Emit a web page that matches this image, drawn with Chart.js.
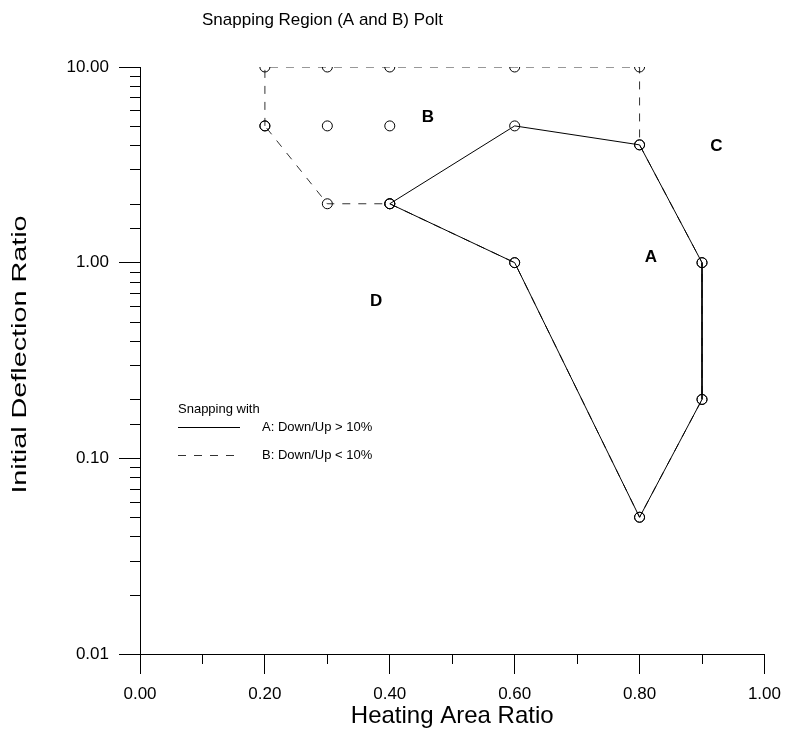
<!DOCTYPE html>
<html>
<head>
<meta charset="utf-8">
<script src="https://cdn.jsdelivr.net/npm/chart.js@4.4.1/dist/chart.umd.min.js"></script>
<style>
  html, body { margin: 0; padding: 0; background: #fff; }
</style>
</head>
<body>
<canvas id="chart" width="791" height="733"></canvas>
<script>
// region A (solid) and region B (dashed) boundaries: heating area ratio / initial deflection ratio
const regionAx = [0.4, 0.6, 0.8, 0.9, 0.9, 0.8, 0.6, 0.4];
const regionAy = [2, 5, 4, 1, 0.2, 0.05, 1, 2];
const regionBx = [0.2, 0.2, 0.3, 0.4, 0.6, 0.8, 0.8, 0.9, 0.9, 0.8, 0.6, 0.4, 0.3, 0.2];
const regionBy = [5, 10, 10, 10, 10, 10, 4, 1, 0.2, 0.05, 1, 2, 2, 5];
// loose test points without a line
const extraX = [0.3, 0.4];
const extraY = [5, 5];

// region letters, placed in data units
const regionNames = ['B', 'C', 'A', 'D'];
const regionNameX = [0.461, 0.923, 0.818, 0.378];
const regionNameY = [5.55, 3.95, 1.06, 0.637];

const chartTitle = 'Snapping Region (A and B) Polt';
const legendTitle = 'Snapping with';
const legendLabels = ['A: Down/Up > 10%', 'B: Down/Up < 10%'];
const xTitle = 'Heating Area Ratio';
const yTitle = 'Initial Deflection Ratio';

const FONT = "'Liberation Sans', Arial, sans-serif";

const toPoints = (xs, ys) => xs.map((x, i) => ({ x, y: ys[i] }));
const isDecade = (v) => Math.abs(Math.log10(v) - Math.round(Math.log10(v))) < 1e-6;

// мелкие тики, заголовки, легенда и буквы областей
const decor = {
  id: 'decor',
  afterDraw(chart) {
    const { ctx, chartArea: { left, bottom, top }, scales: { x, y } } = chart;
    ctx.save();
    ctx.strokeStyle = '#000';
    ctx.lineWidth = 1;
    ctx.beginPath();
    // minor y ticks (2..9 of each decade)
    y.ticks.forEach((t) => {
      if (isDecade(t.value)) return;
      const py = Math.round(y.getPixelForValue(t.value)) + 0.5;
      ctx.moveTo(left - 10, py);
      ctx.lineTo(left, py);
    });
    // minor x ticks halfway between labelled ones
    x.ticks.forEach((t, i) => {
      if (i === x.ticks.length - 1) return;
      const mx = Math.round(x.getPixelForValue((t.value + x.ticks[i + 1].value) / 2)) + 0.5;
      ctx.moveTo(mx, bottom);
      ctx.lineTo(mx, bottom + 10);
    });
    ctx.stroke();

    ctx.fillStyle = '#000';
    ctx.textBaseline = 'middle';

    // title
    ctx.textAlign = 'left';
    ctx.font = `17px ${FONT}`;
    ctx.fillText(chartTitle, 202, 20);

    // y axis title, stretched along its length like the original
    ctx.save();
    ctx.translate(20, (top + bottom) / 2 - 6);
    ctx.rotate(-Math.PI / 2);
    ctx.scale(1.37, 1);
    ctx.textAlign = 'center';
    ctx.font = `21px ${FONT}`;
    ctx.fillText(yTitle, 0, 0);
    ctx.restore();

    // legend
    const ds = chart.data.datasets;
    ctx.font = `13px ${FONT}`;
    ctx.fillText(legendTitle, 178, 409);
    [427, 455].forEach((ly, i) => {
      ctx.beginPath();
      ctx.strokeStyle = ds[i].borderColor;
      ctx.setLineDash(ds[i].borderDash || []);
      ctx.moveTo(178, ly + 0.5);
      ctx.lineTo(240, ly + 0.5);
      ctx.stroke();
      ctx.fillText(legendLabels[i], 262, ly);
    });
    ctx.setLineDash([]);

    // region letters
    ctx.font = `bold 17px ${FONT}`;
    ctx.textAlign = 'center';
    regionNames.forEach((name, i) => {
      ctx.fillText(name, x.getPixelForValue(regionNameX[i]), y.getPixelForValue(regionNameY[i]));
    });
    ctx.restore();
  },
};

const pointStyle = {
  pointRadius: 5,
  pointHoverRadius: 5,
  pointBorderColor: '#000',
  pointBackgroundColor: 'rgba(0,0,0,0)',
  pointBorderWidth: 1,
};

new Chart(document.getElementById('chart'), {
  type: 'scatter',
  data: {
    datasets: [
      {
        label: legendLabels[0],
        data: toPoints(regionAx, regionAy),
        showLine: true,
        borderColor: '#000',
        borderWidth: 1,
        ...pointStyle,
      },
      {
        label: legendLabels[1],
        data: toPoints(regionBx, regionBy),
        showLine: true,
        borderColor: '#333',
        borderWidth: 1,
        borderDash: [8, 8],
        ...pointStyle,
      },
      {
        label: 'points',
        data: toPoints(extraX, extraY),
        showLine: false,
        ...pointStyle,
      },
    ],
  },
  options: {
    responsive: false,
    animation: false,
    devicePixelRatio: 1,
    layout: { padding: { left: 0, top: 67, right: 24, bottom: 0 } },
    plugins: {
      legend: { display: false },
      tooltip: { enabled: false },
    },
    scales: {
      x: {
        type: 'linear',
        min: 0,
        max: 1,
        grid: {
          display: true,
          drawOnChartArea: false,
          drawTicks: true,
          tickLength: 20,
          tickColor: '#000',
        },
        border: { display: true, color: '#000', width: 1 },
        ticks: {
          stepSize: 0.2,
          padding: 10,
          color: '#000',
          maxRotation: 0,
          autoSkip: false,
          font: { family: FONT, size: 17 },
          callback: (v) => v.toFixed(2),
        },
        title: {
          display: true,
          text: xTitle,
          color: '#000',
          font: { family: FONT, size: 24 },
          padding: { top: 0, bottom: 2 },
        },
        afterFit: (s) => { s.height = 79; },
      },
      y: {
        type: 'logarithmic',
        min: 0.01,
        max: 10,
        grid: {
          display: true,
          drawOnChartArea: false,
          drawTicks: true,
          tickLength: 21,
          tickColor: (c) => (c.tick && isDecade(c.tick.value) ? '#000' : 'rgba(0,0,0,0)'),
        },
        border: { display: true, color: '#000', width: 1 },
        ticks: {
          padding: 10,
          color: '#000',
          autoSkip: false,
          font: { family: FONT, size: 17 },
          callback: (v) => (isDecade(v) ? v.toFixed(2) : ''),
        },
        afterFit: (s) => { s.width = 140; },
      },
    },
  },
  plugins: [decor],
});
</script>
</body>
</html>
